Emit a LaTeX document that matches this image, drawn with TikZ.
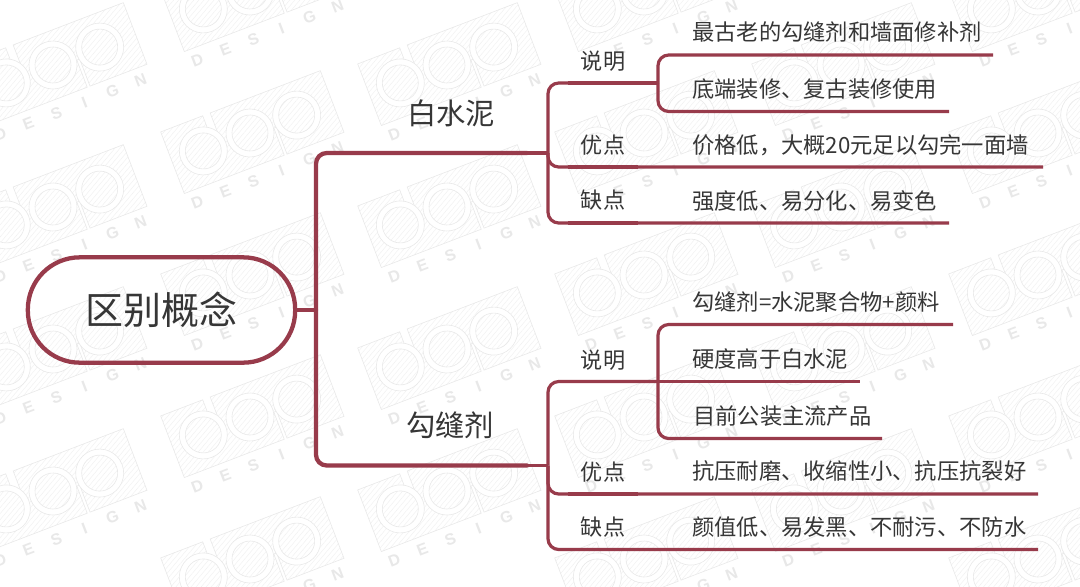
\documentclass[tikz,border=0pt]{standalone}
\usepackage{fontspec}
\usetikzlibrary{patterns.meta}
\setmainfont{Noto Sans CJK SC}
\newfontfamily\wmfont{Liberation Sans}[BoldFont={Liberation Sans Bold}]
\definecolor{brline}{HTML}{983B4B}
\definecolor{txt}{HTML}{363636}
\definecolor{wmline}{HTML}{E9E9E9}
\definecolor{wmhatch}{HTML}{F0F0F0}
\definecolor{wmtext}{HTML}{E8E8E8}
\tikzset{
  trunkline/.style={draw=brline,line width=3.2pt,line cap=round,rounded corners=8pt},
  subline/.style={draw=brline,line width=2.4pt,line cap=butt,rounded corners=8pt},
  accent/.style={draw=brline,line width=2.8pt},
  rootbox/.style={draw=brline,line width=3.2pt,rounded corners=39pt,minimum width=200.5pt,minimum height=79pt,inner sep=0pt,font=\fontsize{28.5pt}{30pt}\selectfont,text=txt},
  branchlabel/.style={font=\fontsize{22pt}{24pt}\selectfont,text=txt,inner sep=0pt,anchor=center,text height=0.88em,text depth=0.12em},
  catlabel/.style={font=\fontsize{16.6pt}{20pt}\selectfont,text=txt,inner sep=0pt,anchor=center,text height=0.88em,text depth=0.12em},
  leaflabel/.style={font=\fontsize{16.7pt}{20pt}\selectfont,text=txt,inner sep=0pt,anchor=west,text height=0.88em,text depth=0.12em},
  wmshape/.style={draw=wmline,line width=0.45pt},
  wmfill/.style={pattern={Lines[angle=50,distance=2.9pt,line width=0.3pt]},pattern color=wmhatch},
  wmring/.style={draw=wmline,line width=0.45pt,fill=white},
  wmletters/.style={font=\wmfont\bfseries\fontsize{12pt}{12pt}\selectfont,text=wmtext,rotate=21,inner sep=0pt},
}
\begin{document}
\begin{tikzpicture}[x=0.75pt,y=-0.75pt]
\useasboundingbox (0,0) rectangle (1080,586);
\clip (0,0) rectangle (1080,586);
\fill[white] (0,0) rectangle (1080,586);
% watermark
\foreach \cx/\cy in {53/-77,250/-9,447/-77,644/-9,841/-77,1038/-9}{
  \foreach \k in {0,...,4}{
    \begin{scope}[shift={(\cx,\cy+142*\k)},rotate=21]
      \path[wmshape,wmfill] (-83,-33) -- (-38,-33) -- (-38,-10) -- (-30,-10) -- (-30,-33) -- (88,-33) -- (88,33) -- (27,33) -- (27,4) -- (24,4) -- (24,33) -- (-83,33) -- cycle;
      \foreach \u in {-50,0,50}{
        \path[wmring] (\u,0) circle[radius=24];
        \path[wmshape,wmfill] (\u,0) circle[radius=18];
      }
      \node[wmletters] (wm-\cx-\k) at (1,46) {\makebox[22.5pt]{D}\makebox[22.5pt]{E}\makebox[22.5pt]{S}\makebox[22.5pt]{I}\makebox[22.5pt]{G}\makebox[22.5pt]{N}};
    \end{scope}
  }
}
% root
\node[rootbox] (root) at (161.5,310) {区别概念};
% labels
\node[branchlabel] (bs) at (451,119) {白水泥};
\node[branchlabel] (gf) at (450,431) {勾缝剂};
\node[catlabel] (a1) at (603,64) {说明};
\node[catlabel] (a2) at (603,148.5) {优点};
\node[catlabel] (a3) at (603,203.5) {缺点};
\node[catlabel] (b1) at (603,363) {说明};
\node[catlabel] (b2) at (603,475) {优点};
\node[catlabel] (b3) at (603,530) {缺点};
\node[leaflabel] (a11) at (692,35) {最古老的勾缝剂和墙面修补剂};
\node[leaflabel] (a12) at (692,92.5) {底端装修、复古装修使用};
\node[leaflabel] (a21) at (692,148.5) {价格低，大概20元足以勾完一面墙};
\node[leaflabel] (a31) at (692,204) {强度低、易分化、易变色};
\node[leaflabel] (b11) at (692,305.5) {勾缝剂=水泥聚合物+颜料};
\node[leaflabel] (b12) at (692,362.5) {硬度高于白水泥};
\node[leaflabel] (b13) at (693,419.5) {目前公装主流产品};
\node[leaflabel] (b21) at (692,474.5) {抗压耐磨、收缩性小、抗压抗裂好};
\node[leaflabel] (b31) at (692,530.5) {颜值低、易发黑、不耐污、不防水};
% junctions and line ends
\coordinate (jr) at (316,310);
\coordinate (be1) at (527,153);
\coordinate (be2) at (527,465.5);
\coordinate (ja) at (548,153);
\coordinate (jb) at (548,465.5);
\coordinate (ca1) at (568,83);
\coordinate (ca2) at (568,167);
\coordinate (ca3) at (568,223);
\coordinate (cb1) at (568,381.5);
\coordinate (cb2) at (568,494);
\coordinate (cb3) at (568,549.5);
\coordinate (ka) at (658,83);
\coordinate (kb) at (658,381.5);
\coordinate (ea11) at (993,55);
\coordinate (ea12) at (949,111.5);
\coordinate (ea2) at (1043,167);
\coordinate (ea3) at (949,223);
\coordinate (eb11) at (953,324.5);
\coordinate (eb12) at (860,381.5);
\coordinate (eb13) at (882,438.5);
\coordinate (eb2) at (1038,494);
\coordinate (eb3) at (1038,549.5);
\coordinate (ma2) at (638,167);
\coordinate (ma3) at (638,223);
\coordinate (mb2) at (638,494);
\coordinate (mb3) at (638,549.5);
% connectors
\draw[trunkline,line cap=butt] (root.east) -- (jr);
\draw[trunkline] (jr) |- (be1);
\draw[trunkline] (jr) |- (be2);
\draw[subline] (be1) -- (ja);
\draw[subline] (be2) -- (jb);
\draw[subline] (ja) |- (ka);
\draw[subline] (ja) |- (ea2);
\draw[subline] (ja) |- (ea3);
\draw[subline] (jb) |- (kb);
\draw[subline] (jb) |- (eb2);
\draw[subline] (jb) |- (eb3);
\draw[subline] (ka) |- (ea11);
\draw[subline] (ka) |- (ea12);
\draw[subline] (kb) |- (eb11);
\draw[subline] (kb) -- (eb12);
\draw[subline] (kb) |- (eb13);
\draw[accent] (ca1) -- (ka);
\draw[accent] (ca2) -- (ma2);
\draw[accent] (ca3) -- (ma3);
\draw[accent] (cb1) -- (kb);
\draw[accent] (cb2) -- (mb2);
\draw[accent] (cb3) -- (mb3);
\end{tikzpicture}
\end{document}
